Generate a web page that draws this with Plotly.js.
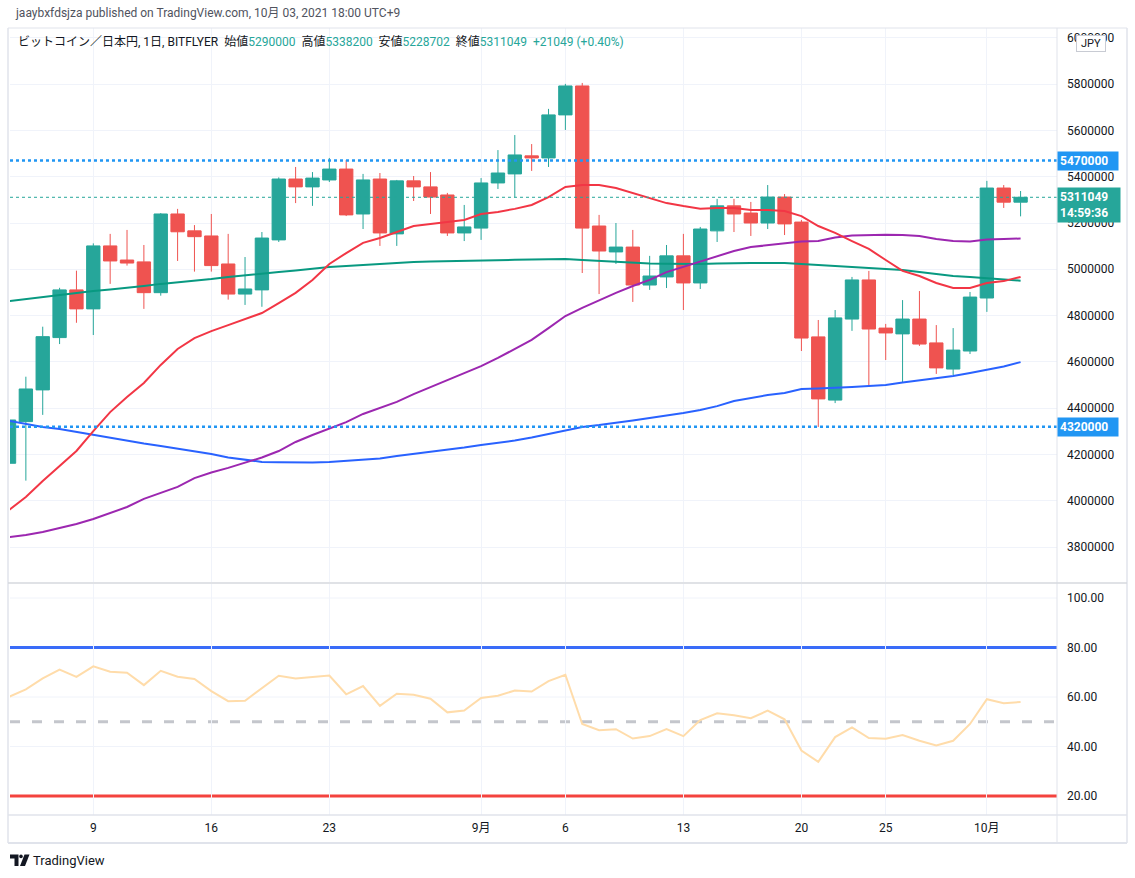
<!DOCTYPE html>
<html><head><meta charset="utf-8">
<script src="https://cdn.plot.ly/plotly-3.0.1.min.js"></script>
<style>html,body{margin:0;padding:0;background:#fff;}#chart{width:1135px;height:878px;}</style>
</head><body><div id="chart"></div>
<script>
// ---- data ----
const dates = ["2021-08-04","2021-08-05","2021-08-06","2021-08-07","2021-08-08","2021-08-09","2021-08-10","2021-08-11","2021-08-12","2021-08-13","2021-08-14","2021-08-15","2021-08-16","2021-08-17","2021-08-18","2021-08-19","2021-08-20","2021-08-21","2021-08-22","2021-08-23","2021-08-24","2021-08-25","2021-08-26","2021-08-27","2021-08-28","2021-08-29","2021-08-30","2021-08-31","2021-09-01","2021-09-02","2021-09-03","2021-09-04","2021-09-05","2021-09-06","2021-09-07","2021-09-08","2021-09-09","2021-09-10","2021-09-11","2021-09-12","2021-09-13","2021-09-14","2021-09-15","2021-09-16","2021-09-17","2021-09-18","2021-09-19","2021-09-20","2021-09-21","2021-09-22","2021-09-23","2021-09-24","2021-09-25","2021-09-26","2021-09-27","2021-09-28","2021-09-29","2021-09-30","2021-10-01","2021-10-02","2021-10-03"];
const openP = [4162000,4342000,4479000,4705000,4911000,4829000,5101000,5040000,5032000,4899000,5239000,5166000,5144000,5023000,4893000,4911000,5127000,5390000,5356000,5386000,5433000,5239000,5390000,5153000,5382000,5356000,5321000,5157000,5178000,5373000,5412000,5490000,5481000,5667000,5792000,5187000,5075000,5096000,4932000,4967000,5058000,4941000,5166000,5274000,5243000,5200000,5312000,5204000,4708000,4435000,4785000,4954000,4746000,4721000,4785000,4682000,4569000,4647000,4876000,5351000,5290000];
const highP = [4355000,4536000,4752000,4920000,4994000,5112000,5153000,5170000,5105000,5243000,5261000,5191000,5239000,5153000,5053000,5161000,5397000,5442000,5420000,5481000,5472000,5412000,5416000,5386000,5403000,5420000,5330000,5278000,5394000,5515000,5580000,5541000,5693000,5801000,5805000,5235000,5200000,5170000,5058000,5105000,5153000,5183000,5304000,5304000,5291000,5364000,5325000,5213000,4781000,4824000,4967000,4993000,4764000,4867000,4906000,4759000,4746000,4902000,5382000,5364000,5338200];
const lowP = [4150000,4087000,4371000,4677000,4769000,4716000,4937000,5016000,4829000,4886000,5036000,4990000,4990000,4869000,4846000,4838000,5118000,5286000,5274000,5377000,5230000,5174000,5101000,5101000,5295000,5239000,5144000,5122000,5127000,5347000,5311000,5425000,5442000,5602000,4984000,4893000,5023000,4859000,4911000,4919000,4824000,4915000,5118000,5161000,5144000,5174000,5148000,4647000,4319000,4422000,4734000,4492000,4608000,4513000,4669000,4548000,4543000,4634000,4816000,5265000,5228702];
const closeP = [4349000,4483000,4709000,4911000,4829000,5101000,5036000,5027000,4899000,5239000,5162000,5141000,5016000,4893000,4915000,5135000,5390000,5356000,5394000,5433000,5235000,5386000,5157000,5382000,5356000,5312000,5157000,5183000,5373000,5416000,5494000,5481000,5667000,5792000,5178000,5079000,5096000,4932000,4971000,5058000,4941000,5174000,5274000,5239000,5200000,5312000,5196000,4703000,4440000,4790000,4954000,4742000,4725000,4785000,4677000,4574000,4651000,4880000,5351000,5290000,5311049];
const maRed = [3960000,4016000,4085000,4150000,4215000,4301000,4383000,4448000,4509000,4587000,4656000,4703000,4733000,4759000,4785000,4811000,4854000,4898000,4954000,5023000,5070000,5114000,5135000,5161000,5187000,5196000,5204000,5213000,5239000,5248000,5261000,5278000,5312000,5356000,5364000,5364000,5351000,5330000,5308000,5286000,5273000,5262000,5265000,5265000,5256000,5256000,5252000,5230000,5187000,5157000,5122000,5088000,5040000,4993000,4971000,4941000,4919000,4919000,4941000,4949000,4967000];
const maPurple = [3843000,3852000,3865000,3882000,3900000,3921000,3947000,3973000,4008000,4034000,4060000,4098000,4122000,4142000,4163000,4187000,4215000,4254000,4284000,4311000,4340000,4375000,4401000,4427000,4461000,4492000,4522000,4552000,4582000,4617000,4656000,4695000,4746000,4798000,4833000,4867000,4898000,4928000,4954000,4988000,5010000,5032000,5057000,5079000,5096000,5105000,5114000,5120000,5122000,5137000,5146000,5149000,5149000,5148000,5144000,5131000,5122000,5120000,5129000,5131000,5133000];
const maTeal = [4863000,4872000,4880000,4889000,4898000,4906000,4913000,4919000,4928000,4937000,4943000,4952000,4958000,4967000,4973000,4980000,4988000,4995000,5003000,5010000,5014000,5019000,5023000,5027000,5032000,5034000,5036000,5038000,5039000,5040000,5041000,5042000,5044000,5045000,5040000,5036000,5032000,5027000,5025000,5024000,5023000,5023000,5025000,5027000,5027000,5027000,5027000,5023000,5019000,5014000,5010000,5006000,5001000,4997000,4988000,4980000,4971000,4967000,4961000,4956000,4951000];
const maBlue = [4345000,4332000,4319000,4310000,4297000,4284000,4271000,4258000,4247000,4237000,4226000,4215000,4202000,4187000,4176000,4168000,4166000,4165000,4165000,4168000,4172000,4176000,4183000,4193000,4202000,4211000,4219000,4230000,4241000,4250000,4260000,4273000,4289000,4306000,4319000,4327000,4336000,4347000,4358000,4368000,4379000,4392000,4409000,4431000,4444000,4457000,4466000,4483000,4485000,4487000,4492000,4496000,4500000,4511000,4520000,4527000,4539000,4552000,4565000,4580000,4599000];
const rsi = [60.1,63.1,67.5,71.1,68.1,72.4,70.2,69.8,64.8,70.6,68.2,67.3,62.4,58.3,58.5,63.5,68.6,67.5,68.1,68.7,61.1,64.4,56.4,61.3,60.9,59.3,53.8,54.5,59.6,60.5,62.6,62.2,66.4,69.0,49.1,46.6,47.0,43.2,44.2,47.0,44.2,50.7,53.4,52.6,51.4,54.5,51.0,38.4,33.8,43.8,47.7,43.4,43.1,44.6,42.3,40.4,42.3,49.1,59.1,57.5,58.0];
const xTickVals = ["2021-08-09","2021-08-16","2021-08-23","2021-09-01","2021-09-06","2021-09-13","2021-09-20","2021-09-25","2021-10-01"];
const xTickText = ["9","16","23","9月","6","13","20","25","10月"];
const priceTicks = [3800000,4000000,4200000,4400000,4600000,4800000,5000000,5200000,5400000,5600000,5800000,6000000];
const rsiTicks = [20,40,60,80,100];
const levelHigh = 5470000, levelLow = 4320000;
const lastPrice = 5311049, countdown = "14:59:36";
const rsiUpper = 80, rsiMid = 50, rsiLower = 20;
const headerText = "jaaybxfdsjza published on TradingView.com, 10月 03, 2021 18:00 UTC+9";
const symbolText = "ビットコイン／日本円, 1日, BITFLYER";
const ohlcLabels = ["始値","高値","安値","終値"];
const changeText = "+21049 (+0.40%)";

// ---- layout helpers ----
const W = 1135, H = 878, ML = 10, MR = 78, MT = 28, MB = 63;
const PW = W - ML - MR, PH = H - MT - MB;
const px = X => (X - ML) / PW;
const py = Y => (H - MB - Y) / PH;
const UP = '#26a69a', DOWN = '#ef5350', GRID = '#f0f3fa', FRAME = '#e0e3eb';
const FONT = "Roboto, 'Noto Sans CJK JP', sans-serif";

const traces = [
  {type:'candlestick', x:dates, open:openP, high:highP, low:lowP, close:closeP,
   xaxis:'x', yaxis:'y',
   increasing:{line:{color:UP,width:1}, fillcolor:UP},
   decreasing:{line:{color:DOWN,width:1}, fillcolor:DOWN},
   whiskerwidth:0, hoverinfo:'skip'},
  {type:'scatter', mode:'lines', x:dates, y:maTeal, line:{color:'#089981',width:2}, hoverinfo:'skip'},
  {type:'scatter', mode:'lines', x:dates, y:maBlue, line:{color:'#2962ff',width:2}, hoverinfo:'skip'},
  {type:'scatter', mode:'lines', x:dates, y:maPurple, line:{color:'#9c27b0',width:2}, hoverinfo:'skip'},
  {type:'scatter', mode:'lines', x:dates, y:maRed, line:{color:'#f23645',width:2}, hoverinfo:'skip'},
  {type:'scatter', mode:'lines', x:dates, y:rsi, xaxis:'x', yaxis:'y2', line:{color:'#ffdcaa',width:2}, hoverinfo:'skip'}
];

const line = (x0,y0,x1,y1,color,width) => ({type:'line', xref:'paper', yref:'paper', x0:px(x0), y0:py(y0), x1:px(x1), y1:py(y1), line:{color:color,width:width}, layer:'above'});
const pathPx = (pts, color) => ({type:'path', xref:'paper', yref:'paper', layer:'above',
  path: pts.map((p,i) => (i ? 'L' : 'M') + px(p[0]) + ',' + py(p[1])).join(' ') + ' Z',
  fillcolor:color, line:{width:0}});
const rsiGrid = v => ({type:'line', xref:'paper', x0:0, x1:1, yref:'y2', y0:v, y1:v, line:{color:GRID, width:1}, layer:'below'});

const shapes = [
  rsiGrid(40), rsiGrid(60), rsiGrid(100),
  {type:'line', xref:'paper', x0:0, x1:1, yref:'y', y0:levelHigh, y1:levelHigh, line:{color:'#2196f3', width:2.5, dash:'dot'}},
  {type:'line', xref:'paper', x0:0, x1:1, yref:'y', y0:levelLow, y1:levelLow, line:{color:'#2196f3', width:2.5, dash:'dot'}},
  {type:'line', xref:'paper', x0:0, x1:1, yref:'y', y0:lastPrice, y1:lastPrice, line:{color:UP, width:1, dash:'dot'}},
  {type:'line', xref:'paper', x0:0, x1:1, yref:'y2', y0:rsiUpper, y1:rsiUpper, line:{color:'#3a6cf8', width:3}, layer:'below'},
  {type:'line', xref:'paper', x0:0, x1:1, yref:'y2', y0:rsiLower, y1:rsiLower, line:{color:'#f4433e', width:3}, layer:'below'},
  {type:'line', xref:'paper', x0:0, x1:1, yref:'y2', y0:rsiMid, y1:rsiMid, line:{color:'#c4c6cc', width:3, dash:'10px,12px'}, layer:'below'},
  line(8,28,1127,28,FRAME,1),
  line(8,28,8,843,FRAME,1.5),
  line(1127,28,1127,843,FRAME,1.5),
  line(8,843,1127,843,FRAME,2),
  line(1057,28,1057,843,FRAME,1),
  line(8,583,1127,583,'#d6d8de',1.5),
  line(8,815,1127,815,FRAME,1.5),
  // TradingView logo mark
  pathPx([[10,854.5],[18.5,854.5],[18.5,866],[14.5,866],[14.5,858.5],[10,858.5]], '#131722'),
  {type:'circle', xref:'paper', yref:'paper', layer:'above', x0:px(19.2), x1:px(22.8), y0:py(854.6), y1:py(858.2), fillcolor:'#131722', line:{width:0}},
  pathPx([[24.5,854.5],[29.5,854.5],[25,866],[20,866]], '#131722')
];

const legendParts = [openP[60], highP[60], lowP[60], closeP[60]];
let legendHtml = symbolText;
for (let i = 0; i < 4; i++) {
  legendHtml += '\u00a0\u00a0' + ohlcLabels[i] + '<span style="color:' + UP + '">' + legendParts[i] + '</span>';
}
legendHtml += '\u00a0\u00a0<span style="color:' + UP + '">' + changeText + '</span>';

const annotations = [
  {xref:'paper', yref:'paper', x:px(13), y:py(13), xanchor:'left', yanchor:'middle', showarrow:false,
   text:headerText, font:{family:FONT, size:12, color:'#50535e'}},
  {xref:'paper', yref:'paper', x:px(16), y:py(42), xanchor:'left', yanchor:'middle', showarrow:false,
   text:legendHtml, font:{family:FONT, size:12, color:'#131722'}},
  {xref:'paper', yref:'y', x:1, y:levelHigh, xanchor:'left', yanchor:'middle', showarrow:false,
   text:'<b>' + levelHigh + '</b>', bgcolor:'#2196f3', borderpad:2, width:56, align:'left',
   font:{family:FONT, size:12, color:'#ffffff'}},
  {xref:'paper', yref:'y', x:1, y:levelLow, xanchor:'left', yanchor:'middle', showarrow:false,
   text:'<b>' + levelLow + '</b>', bgcolor:'#2196f3', borderpad:2, width:56, align:'left',
   font:{family:FONT, size:12, color:'#ffffff'}},
  {xref:'paper', yref:'paper', x:1, y:py(187), xanchor:'left', yanchor:'top', showarrow:false,
   text:'<b>' + lastPrice + '</b><br><b>' + countdown + '</b>', bgcolor:UP, borderpad:2, width:58, align:'left',
   font:{family:FONT, size:12, color:'#ffffff'}},
  {xref:'paper', yref:'paper', x:px(1091), y:py(43), xanchor:'center', yanchor:'middle', showarrow:false,
   text:'JPY', bgcolor:'#ffffff', bordercolor:'#c8cbd3', borderwidth:1, borderpad:1, width:26,
   font:{family:FONT, size:11, color:'#131722'}},
  {xref:'paper', yref:'paper', x:px(31), y:py(860), xanchor:'left', yanchor:'middle', showarrow:false,
   text:'TradingView', font:{family:FONT, size:13, color:'#131722'}}
];

const layout = {
  width:W, height:H, margin:{l:ML, r:MR, t:MT, b:MB, pad:0},
  paper_bgcolor:'#ffffff', plot_bgcolor:'#ffffff', showlegend:false,
  font:{family:FONT, size:12, color:'#131722'},
  boxgap:0.12, boxgroupgap:0.1,
  xaxis:{type:'date', anchor:'y2', range:['2021-08-04 01:25','2021-10-05 03:50'],
    tickmode:'array', tickvals:xTickVals, ticktext:xTickText, ticks:'', showgrid:true, gridcolor:GRID,
    zeroline:false, showline:false, rangeslider:{visible:false}, ticklabelstandoff:4,
    tickfont:{family:FONT, size:12, color:'#131722'}, fixedrange:true},
  yaxis:{domain:[py(582),1], range:[3649100,6042400], side:'right', anchor:'x',
    tickmode:'array', tickvals:priceTicks, ticktext:priceTicks.map(String), showgrid:true, gridcolor:GRID,
    zeroline:false, showline:false, ticks:'', ticklabelstandoff:9,
    tickfont:{family:FONT, size:12, color:'#131722'}},
  yaxis2:{domain:[0,py(584)], range:[12.32,105.66], side:'right', anchor:'x',
    tickmode:'array', tickvals:rsiTicks, ticktext:rsiTicks.map(v => v.toFixed(2)), showgrid:false,
    zeroline:false, showline:false, ticks:'', ticklabelstandoff:9,
    tickfont:{family:FONT, size:12, color:'#131722'}},
  shapes:shapes, annotations:annotations
};

Plotly.newPlot('chart', traces, layout, {staticPlot:true, displayModeBar:false});
</script></body></html>
